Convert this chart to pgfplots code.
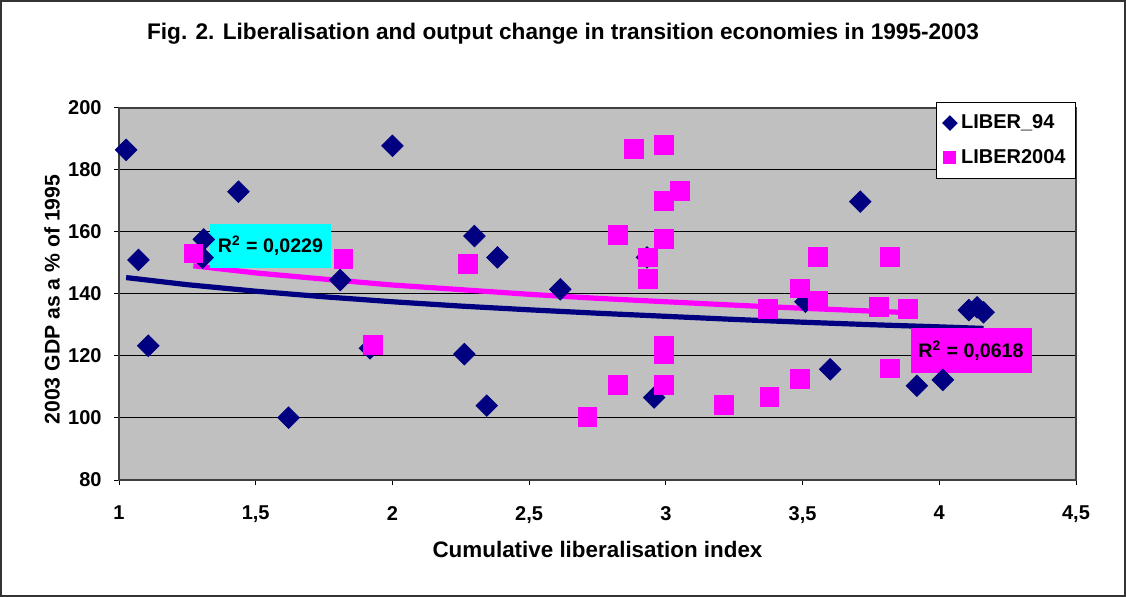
\documentclass[border=0pt]{standalone}
\usepackage{pgfplots}
\pgfplotsset{compat=1.18}
\usepackage{fontspec}
\setmainfont{Liberation Sans}
\definecolor{navy}{HTML}{000080}
\definecolor{mag}{HTML}{FF00FF}
\definecolor{cyanb}{HTML}{00FFFF}
\definecolor{plotgray}{HTML}{C0C0C0}
\begin{document}
\begin{tikzpicture}
\useasboundingbox (0,0) rectangle (563bp,298.5bp);
\fill[white] (0,0) rectangle (563bp,298.5bp);
\begin{axis}[
  at={(59.5bp,58.5bp)}, anchor=south west,
  scale only axis, width=478.5bp, height=186bp,
  xmin=1, xmax=4.5, ymin=80, ymax=200,
  xtick={1,1.5,...,4.5}, ytick={80,100,...,200},
  /pgf/number format/.cd, use comma, 1000 sep={}, assume math mode=true, /pgfplots/.cd,
  tick label style={font=\bfseries\fontsize{10bp}{12bp}\selectfont},
  xticklabel style={yshift=-7bp},
  yticklabel style={xshift=-2.7bp},
  axis background/.style={fill=plotgray},
  ymajorgrids, grid style={black, line width=0.5bp},
  axis line style={black!75, line width=0.6bp},
  tick style={black, line width=0.5bp},
  major tick length=2.5bp, tick align=outside,
  xtick pos=left, ytick pos=left,
  xlabel={Cumulative liberalisation index},
  ylabel={2003 GDP as a \% of 1995},
  x label style={font=\bfseries\fontsize{11.2bp}{13bp}\selectfont, at={(axis description cs:0.5,0)}, anchor=base, yshift=-38.5bp},
  y label style={font=\bfseries\fontsize{10.6bp}{13bp}\selectfont, at={(axis description cs:-0.070,0.485)}, anchor=center},
  legend style={at={(1,1.016)}, anchor=north east, draw=black, line width=0.5bp, fill=white,
    font=\bfseries\fontsize{10bp}{12bp}\selectfont, inner xsep=3bp, inner ysep=4bp,
    row sep=5bp},
  legend cell align=left,
  legend image code/.code={\draw[#1] plot coordinates {(0bp,0bp)};},
]
\addlegendimage{only marks, mark=square*, mark options={rotate=45, fill=navy, draw=navy}, mark size=2.5bp}
\addlegendentry{LIBER\_94}
\addlegendimage{only marks, mark=square*, mark options={fill=mag, draw=mag}, mark size=3bp}
\addlegendentry{LIBER2004}

% LIBER_94
\addplot[only marks, mark=square*, mark options={rotate=45, fill=navy, draw=navy}, mark size=3.8bp, forget plot] coordinates {
(1.026,186.5) (1.071,151.0) (1.107,123.3) (1.310,157.6) (1.306,151.7)
(1.437,173.0) (1.620,100.1) (1.809,144.5) (1.918,122.5) (2.000,187.8)
(2.263,120.6) (2.300,158.7) (2.345,104.0) (2.384,151.8) (2.614,141.5)
(2.931,151.8) (2.957,106.6) (3.510,137.5) (3.601,115.7) (3.711,169.8)
(3.918,110.4) (4.013,112.3) (4.108,134.8) (4.138,135.7) (4.162,134.1)
};
% LIBER2004
\addplot[only marks, mark=square*, mark options={fill=mag, draw=mag}, mark size=4.7bp, forget plot] coordinates {
(1.272,153.1) (1.821,151.3) (1.930,123.5) (2.276,149.6) (2.713,100.4)
(2.824,159.0) (2.824,110.6) (2.883,186.8) (2.933,151.8) (2.933,144.8)
(2.992,188.1) (2.992,170.0) (3.050,173.3) (2.992,157.7) (2.992,123.3)
(2.992,120.8) (2.992,110.6) (3.212,104.2) (3.372,135.2) (3.379,106.8)
(3.489,141.8) (3.489,112.7) (3.556,152.0) (3.556,137.7) (3.778,135.9)
(3.818,152.0) (3.818,116.0) (3.884,135.2)
};
% trend lines
\addplot[navy, line width=2.6bp, forget plot] coordinates {
(1.026,145.3) (1.25,143.0) (1.5,140.9) (1.75,139.1) (2,137.5) (2.25,136.1)
(2.5,134.9) (2.75,133.8) (3,132.8) (3.25,131.8) (3.5,130.9) (3.75,130.1)
(4,129.4) (4.162,128.9)
};
\addplot[mag, line width=2.6bp, forget plot] coordinates {
(1.272,149.1) (1.5,146.8) (1.75,144.8) (2,142.9) (2.25,141.4) (2.5,139.9)
(2.75,138.6) (3,137.5) (3.25,136.4) (3.5,135.4) (3.75,134.5) (3.884,134.0)
};
\node[fill=cyanb, inner sep=0pt, minimum width=60.5bp, minimum height=22bp,
  font=\bfseries\fontsize{9.8bp}{12bp}\selectfont] at (axis cs:1.554,155.5) {R\textsuperscript{2} = 0,0229};
\node[fill=mag, inner sep=0pt, minimum width=60.5bp, minimum height=22.5bp,
  font=\bfseries\fontsize{9.8bp}{12bp}\selectfont] at (axis cs:4.116,121.8) {R\textsuperscript{2} = 0,0618};
\end{axis}
\node[anchor=base, font=\bfseries\fontsize{11.3bp}{13bp}\selectfont] at (281.5bp,278.5bp)
  {Fig. 2. Liberalisation and output change in transition economies in 1995-2003};
\draw[black!80, line width=1.2bp] (0.6bp,0.6bp) rectangle (562.4bp,297.9bp);
\end{tikzpicture}
\end{document}
